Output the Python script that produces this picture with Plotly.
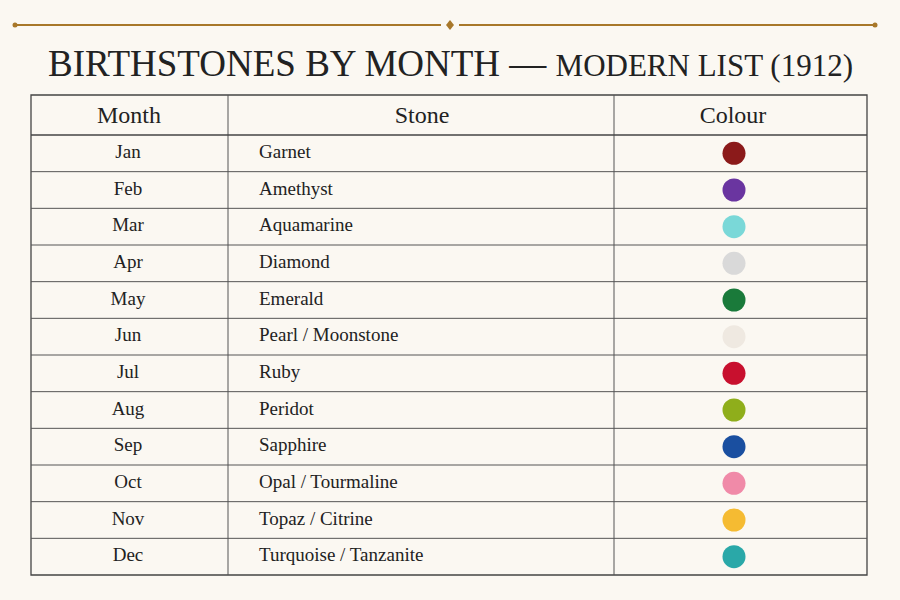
import plotly.graph_objects as go

months = ["Jan", "Feb", "Mar", "Apr", "May", "Jun", "Jul", "Aug", "Sep", "Oct", "Nov", "Dec"]
stones = ["Garnet", "Amethyst", "Aquamarine", "Diamond", "Emerald", "Pearl / Moonstone",
          "Ruby", "Peridot", "Sapphire", "Opal / Tourmaline", "Topaz / Citrine",
          "Turquoise / Tanzanite"]
colours = ["#8b1a1a", "#6a35a0", "#7ad8d8", "#d9d9d9", "#1a7a3a", "#efe9e1",
           "#c8102e", "#8fae1b", "#1a4fa0", "#f08aa8", "#f5bb32", "#2aa8a8"]

BG = "#fbf8f2"
INK = "#222222"
GOLD = "#a8782a"
FONT = "Liberation Serif"

# layout geometry in pixel-like axis units (900 x 600 canvas)
left, right, top, head_bot, bottom = 31, 867, 95, 135, 575
col1, col2 = 228, 614
row_h = (bottom - head_bot) / len(months)
row_y = [head_bot + row_h * (i + 0.5) for i in range(len(months))]

fig = go.Figure()

fig.add_trace(go.Scatter(x=[128] * 12, y=row_y, mode="text", text=months,
                         textfont=dict(family=FONT, size=19, color=INK),
                         textposition="middle center", hoverinfo="skip"))
fig.add_trace(go.Scatter(x=[259] * 12, y=row_y, mode="text", text=stones,
                         textfont=dict(family=FONT, size=19, color=INK),
                         textposition="middle right", hoverinfo="skip"))
fig.add_trace(go.Scatter(x=[734] * 12, y=row_y, mode="markers",
                         marker=dict(size=23, color=colours, line=dict(width=0)),
                         text=stones, hovertemplate="%{text}<extra></extra>"))

# header text
fig.add_trace(go.Scatter(x=[129, 422, 733], y=[117] * 3, mode="text",
                         text=["Month", "Stone", "Colour"],
                         textfont=dict(family=FONT, size=24, color=INK),
                         textposition="middle center", hoverinfo="skip"))

shapes = []
line = dict(color="#555555", width=1)
shapes.append(dict(type="rect", x0=left, x1=right, y0=top, y1=bottom, line=dict(color="#444444", width=1.3)))
for x in (col1, col2):
    shapes.append(dict(type="line", x0=x, x1=x, y0=top, y1=bottom, line=line))
shapes.append(dict(type="line", x0=left, x1=right, y0=head_bot, y1=head_bot, line=dict(color="#444444", width=1.3)))
for i in range(1, len(months)):
    y = head_bot + row_h * i
    shapes.append(dict(type="line", x0=left, x1=right, y0=y, y1=y, line=line))

# ornament rule
gold = dict(color=GOLD, width=2)
shapes.append(dict(type="line", x0=15, x1=441, y0=25, y1=25, line=gold))
shapes.append(dict(type="line", x0=459, x1=875, y0=25, y1=25, line=gold))
shapes.append(dict(type="path", path="M 450 20 L 454 25 L 450 30 L 446 25 Z",
                   fillcolor=GOLD, line=dict(width=0)))
for x in (15, 875):
    shapes.append(dict(type="circle", x0=x - 2.5, x1=x + 2.5, y0=22.5, y1=27.5,
                       fillcolor=GOLD, line=dict(width=0)))

fig.update_layout(
    width=900, height=600,
    margin=dict(l=0, r=0, t=0, b=0),
    paper_bgcolor=BG, plot_bgcolor=BG,
    showlegend=False,
    shapes=shapes,
    xaxis=dict(range=[0, 900], visible=False, fixedrange=True),
    yaxis=dict(range=[600, 0], visible=False, fixedrange=True),
    annotations=[dict(
        x=450, y=63, xref="x", yref="y", showarrow=False,
        text="BIRTHSTONES BY MONTH — <span style='font-size:31px'>MODERN LIST (1912)</span>",
        font=dict(family=FONT, size=37, color=INK),
    )],
)

# drop the default page margin so the figure fills the window
fig.write_html("out.html", config=dict(displayModeBar=False),
               post_script="document.body.style.margin='0';"
                           "document.body.style.background='#fbf8f2';")
